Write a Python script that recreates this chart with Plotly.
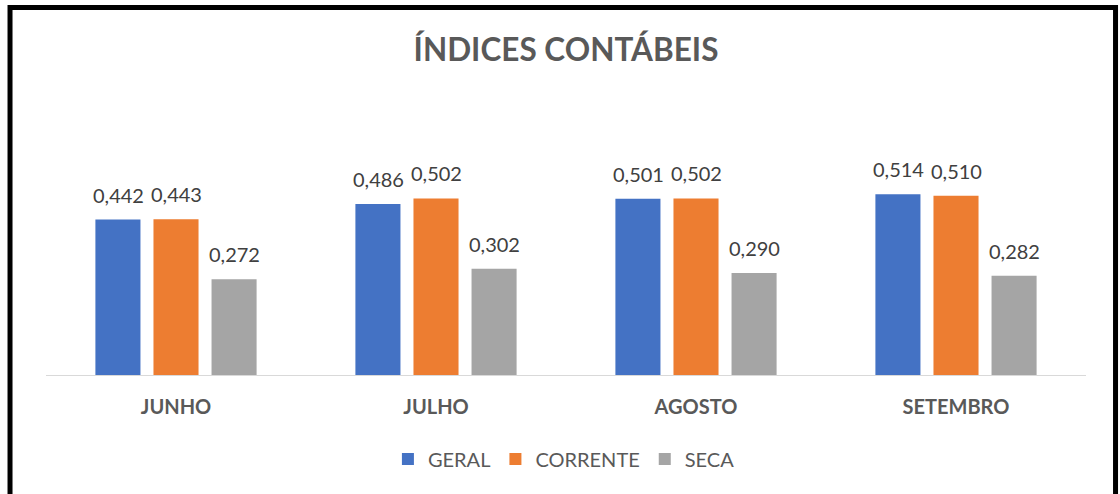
import plotly.graph_objects as go

categories = ["JUNHO", "JULHO", "AGOSTO", "SETEMBRO"]
geral = [0.442, 0.486, 0.501, 0.514]
corrente = [0.443, 0.502, 0.502, 0.510]
seca = [0.272, 0.302, 0.290, 0.282]
series_names = ["GERAL", "CORRENTE", "SECA"]
series_values = [geral, corrente, seca]
colors = ["#4472C4", "#ED7D31", "#A5A5A5"]

FONT = "Lato"

fig = go.Figure()
for name, vals, col in zip(series_names, series_values, colors):
    fig.add_trace(go.Bar(x=categories, y=vals, name=name, marker_color=col,
                         marker_line_width=0))

# data labels
offsets = [-58, 0, 58]
for vals, dx in zip(series_values, offsets):
    for cat, v in zip(categories, vals):
        fig.add_annotation(x=cat, y=v, xref="x", yref="y", text=f"{v:.3f}".replace(".", ","),
                           showarrow=False, yanchor="bottom", xshift=dx, yshift=11,
                           font=dict(family=FONT, size=20, color="#404040"))

# outer border
fig.add_shape(type="rect", xref="paper", yref="paper",
              x0=-0.0346, x1=1.0284, y0=-0.6, y1=1.7417,
              line=dict(color="black", width=5), fillcolor="rgba(0,0,0,0)")

fig.update_layout(
    width=1120, height=494,
    margin=dict(l=46, r=34, t=164, b=119, autoexpand=False),
    paper_bgcolor="white", plot_bgcolor="white",
    barmode="group", bargap=0.33, bargroupgap=0.224,
    title=dict(text="<b>ÍNDICES CONTÁBEIS</b>", x=0.5, xref="paper", xanchor="center",
               y=1 - 50 / 494, yanchor="middle",
               font=dict(family=FONT, size=31.5, color="#595959")),
    legend=dict(orientation="h", x=0.498, xanchor="center", y=-0.398, yanchor="middle",
                font=dict(family=FONT, size=20, color="#595959"), traceorder="normal"),
    showlegend=True,
    xaxis=dict(showline=True, linecolor="#D9D9D9", linewidth=1, ticks="",
               tickfont=dict(family=FONT, size=20, color="#595959"),
               ticklabelstandoff=14, showgrid=False, zeroline=False),
    yaxis=dict(range=[0, 0.6], visible=False, showgrid=False, zeroline=False),
)
fig.update_xaxes(tickvals=categories, ticktext=[f"<b>{c}</b>" for c in categories])

fig.write_html("out.html", config={"displayModeBar": False},
               post_script="document.body.style.margin='0px';")
